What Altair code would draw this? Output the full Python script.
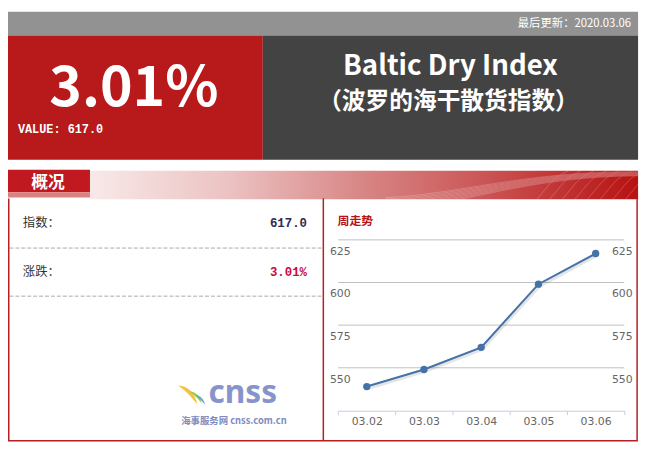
import altair as alt
import pandas as pd

# ---------------- data ----------------
dates = ["03.02", "03.03", "03.04", "03.05", "03.06"]
values = [539, 549, 562, 599, 617]
y_ticks = [550, 575, 600, 625]
y_domain = [525, 625]

index_value = "617.0"
change_pct = "3.01%"
update_text = "最后更新：2020.03.06"
title_en = "Baltic Dry Index"
title_cn = "（波罗的海干散货指数）"
value_label = "VALUE: 617.0"
tab_label = "概况"
row_labels = ["指数：", "涨跌："]
row_values = [index_value, change_pct]
trend_title = "周走势"
logo_main = "cnss"
logo_sub = "海事服务网 cnss.com.cn"

# ---------------- layout helpers ----------------
W, H = 645, 442
CJK = "Noto Sans CJK SC"


def X(v):
    return max(v - 8, 0)


def Y(v):
    return v - 8


one = alt.Data(values=[{"a": 1}])


def box(x1, x2, y1, y2, color, **kw):
    return alt.Chart(one).mark_rect(color=color, **kw).encode(
        x=alt.value(x1), x2=alt.value(x2), y=alt.value(y1), y2=alt.value(y2)
    )


def label(text, x, y, size, color, align="left", weight="normal",
          font=CJK, baseline="middle"):
    return alt.Chart(one).mark_text(
        text=text, align=align, baseline=baseline, fontSize=size,
        color=color, fontWeight=weight, font=font
    ).encode(x=alt.value(x), y=alt.value(y))


def hline(x1, x2, y, color, width=1.0, dash=None):
    kw = {}
    if dash:
        kw["strokeDash"] = dash
    return alt.Chart(one).mark_rule(color=color, strokeWidth=width, **kw).encode(
        x=alt.value(x1), x2=alt.value(x2), y=alt.value(y)
    )


def vline(x, y1, y2, color, width=1.0):
    return alt.Chart(one).mark_rule(color=color, strokeWidth=width).encode(
        x=alt.value(x), y=alt.value(y1), y2=alt.value(y2)
    )


def shape(path, x, y, size, color, filled=True, opacity=1.0, stroke_width=1.0):
    if filled:
        m = alt.Chart(one).mark_point(shape=path, size=size, filled=True,
                                      color=color, opacity=opacity, strokeWidth=0)
    else:
        m = alt.Chart(one).mark_point(shape=path, size=size, filled=False,
                                      color=color, opacity=opacity,
                                      strokeWidth=stroke_width)
    return m.encode(x=alt.value(x), y=alt.value(y))


# ---------------- decorative layers ----------------
grey_bar = box(X(6), X(646), Y(9), Y(33), "#929292")
red_panel = box(X(6), X(266), Y(33), Y(159), "#B8191A")
dark_panel = box(X(266), X(646), Y(33), Y(159), "#434343")

strip = alt.Chart(one).mark_rect(
    color=alt.Gradient(
        gradient="linear",
        stops=[
            alt.GradientStop(color="#f8e9e9", offset=0),
            alt.GradientStop(color="#ecc3c3", offset=0.25),
            alt.GradientStop(color="#d88585", offset=0.5),
            alt.GradientStop(color="#cc5a5a", offset=0.7),
            alt.GradientStop(color="#c23535", offset=0.85),
            alt.GradientStop(color="#b81212", offset=1),
        ],
        x1=0, x2=1, y1=0, y2=0,
    )
).encode(x=alt.value(X(91)), x2=alt.value(X(646)), y=alt.value(Y(170)), y2=alt.value(Y(199)))

wave_paths = []
for i in range(9):
    a = -0.10 + i * 0.012
    wave_paths.append(
        f"M -1,{a + 0.2:.3f} C -0.4,{a + 0.17:.3f} 0.1,{-0.11 + i * 0.005:.3f} 1,{-0.105 + i * 0.004:.3f}"
    )
for i in range(8):
    x0 = 0.2 + i * 0.1
    wave_paths.append(f"M {x0:.3f},0.112 C {x0 + 0.1:.3f},0.0 {x0 + 0.12:.3f},-0.06 {x0 + 0.25:.3f},-0.112")
waves = shape(" ".join(wave_paths), X(518), Y(184.5), 256 * 256, "#ffffff",
              filled=False, opacity=0.35, stroke_width=0.6)

tab = box(X(6), X(91), Y(169), Y(191.7), "#C0191F")
tab_under = box(X(6), X(91), Y(191.7), Y(197), "#dc8080")

border_col = "#B52025"
b_left = vline(0.75, Y(198), Y(443.5), border_col, 1.5)
b_mid = vline(X(327.3), Y(198), Y(443.5), border_col, 1.5)
b_right = vline(X(645), Y(198), Y(443.5), border_col, 1.5)
b_bottom = hline(0, X(645.7), Y(443.3), border_col, 1.5)

dash1 = hline(1.5, X(326), Y(248.3), "#aaaaaa", 1, [4, 2])
dash2 = hline(1.5, X(326), Y(297), "#aaaaaa", 1, [4, 2])

# ---------------- texts ----------------
t_update = label(update_text, X(639), Y(21), 11.5, "#ffffff", align="right")
t_big = label(change_pct, X(135.5), Y(104), 56, "#ffffff", align="center",
              weight="bold", baseline="alphabetic")
t_value = label(value_label, X(18), Y(127.5), 12, "#ffffff", weight="bold",
                font="Liberation Mono")
t_title = label(title_en, X(456), Y(73), 28, "#ffffff", align="center",
                weight="bold", baseline="alphabetic")
t_sub = label(title_cn, X(454), Y(100), 24, "#ffffff", align="center", weight="bold")
t_tab = label(tab_label, X(48.5), Y(182), 17, "#ffffff", align="center", weight="bold")

t_row1 = label(row_labels[0], X(23), Y(223.3), 12.5, "#333333")
t_row2 = label(row_labels[1], X(23), Y(272.7), 12.5, "#333333")
t_val1 = label(row_values[0], X(310.7), Y(223.3), 12.5, "#2b2b55", align="right",
               weight="bold", font="Liberation Mono")
t_val2 = label(row_values[1], X(310.7), Y(272.7), 12.5, "#cc0a3c", align="right",
               weight="bold", font="Liberation Mono")
t_trend = label(trend_title, X(341.7), Y(220.7), 12, "#b5121b", weight="bold")

# ---------------- logo ----------------
swoosh = "M -1,-1 C 0.1,-0.95 0.85,-0.1 1,1 C 0.35,0.15 -0.25,-0.45 -1,-1 Z"
logo_y = shape(swoosh, X(190), Y(397), 19 * 19, "#f5c242")
logo_g = shape(swoosh, X(198), Y(399.5), 12 * 12, "#8cc63f", opacity=0.9)
logo_b = shape(swoosh, X(202.5), Y(402), 10 * 10, "#4aa3df", opacity=0.9)
t_logo = label(logo_main, X(211), Y(405), 32, "#8794cc", weight="bold",
               font="Noto Sans", baseline="alphabetic")
t_logo_sub = label(logo_sub, X(183.3), Y(423), 9.5, "#7f8cc0", weight="bold")

decor = [grey_bar, red_panel, dark_panel, strip, waves, tab, tab_under,
         dash1, dash2, b_left, b_mid, b_right, b_bottom,
         t_update, t_big, t_value, t_title, t_sub, t_tab,
         t_row1, t_row2, t_val1, t_val2, t_trend,
         logo_y, logo_g, logo_b, t_logo, t_logo_sub]

# ---------------- trend chart ----------------
df = pd.DataFrame({"date": dates, "value": values})
ticks_df = pd.DataFrame({"tick": y_ticks})

x_enc = alt.X(
    "date:N",
    sort=dates,
    scale=alt.Scale(type="band", range=[X(342.3), X(632)], paddingInner=0, paddingOuter=0),
    axis=alt.Axis(
        title=None, orient="bottom", offset=-(H - Y(413)), grid=False,
        domainColor="#C0D0E0", domainWidth=1, tickColor="#C0D0E0", tickSize=4,
        tickBand="extent", labelFont="DejaVu Sans", labelFontSize=11,
        labelColor="#666666", labelPadding=1, labelAngle=0,
    ),
)
y_scale = alt.Scale(domain=y_domain, range=[Y(412.7), Y(240)], zero=False, nice=False)

grid = alt.Chart(ticks_df).mark_rule(color="#C0C0C0", strokeWidth=1).encode(
    y=alt.Y("tick:Q", scale=y_scale, axis=None),
    x=alt.value(X(342.3)), x2=alt.value(X(632)),
)
ylab_left = alt.Chart(ticks_df).mark_text(
    align="left", baseline="middle", dy=12, fontSize=11, color="#666666", font="DejaVu Sans"
).encode(y=alt.Y("tick:Q", scale=y_scale, axis=None), x=alt.value(X(334)), text="tick:Q")
ylab_right = alt.Chart(ticks_df).mark_text(
    align="left", baseline="middle", dy=12, fontSize=11, color="#666666", font="DejaVu Sans"
).encode(y=alt.Y("tick:Q", scale=y_scale, axis=None), x=alt.value(X(619.5)), text="tick:Q")

y_enc = alt.Y("value:Q", scale=y_scale, axis=None)
shadow = alt.Chart(df).mark_line(color="#000000", opacity=0.1, strokeWidth=4,
                                 xOffset=1, yOffset=1.5).encode(x=x_enc, y=y_enc)
line = alt.Chart(df).mark_line(color="#4572A7", strokeWidth=2).encode(x=x_enc, y=y_enc)
points = alt.Chart(df).mark_point(filled=True, size=55, color="#4572A7", opacity=1).encode(
    x=x_enc, y=y_enc
)

chart = alt.layer(*decor, grid, ylab_left, ylab_right, shadow, line, points).properties(
    width=W, height=H, padding=0, autosize=alt.AutoSizeParams(type="none"),
    background="#ffffff",
).configure_view(strokeWidth=0)

chart.save("out.html", embed_options={"renderer": "svg", "actions": False})
